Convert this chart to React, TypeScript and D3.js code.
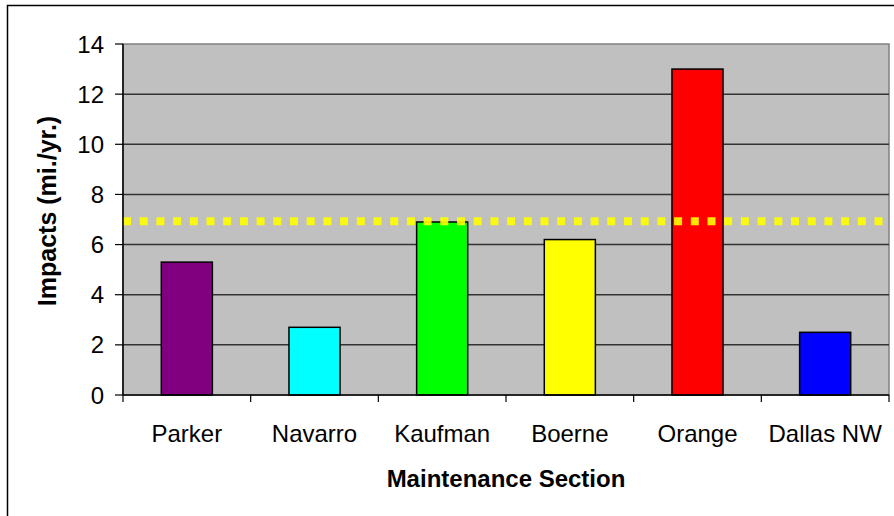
import React from "react"
import * as d3 from "d3"

const sections = ["Parker", "Navarro", "Kaufman", "Boerne", "Orange", "Dallas NW"]
const impacts = [5.3, 2.7, 6.9, 6.2, 13.0, 2.5]
const barColors = ["#800080", "#00FFFF", "#00FF00", "#FFFF00", "#FF0000", "#0000FF"]
const yTicks = [0, 2, 4, 6, 8, 10, 12, 14]
const threshold = 6.93

const W = 894
const H = 516
const left = 123
const right = 889
const top = 44
const bottom = 395

const font = "'Liberation Sans', Arial, sans-serif"

export default function App() {
  const x = d3.scaleBand().domain(sections).range([left, right]).paddingInner(0).paddingOuter(0)
  const y = d3.scaleLinear().domain([0, 14]).range([bottom, top])
  const barW = x.bandwidth() * 0.4
  const edges = [...sections.map(s => x(s)), right]

  return (
    <svg width={W} height={H} style={{ position: "absolute", left: 0, top: 0 }} fontFamily={font}>
      <rect x={0} y={0} width={W} height={H} fill="#fff" />
      <rect x={7.5} y={5.5} width={W + 10} height={H + 10} fill="none" stroke="#000" strokeWidth={1.5} />

      {/* plot area */}
      <rect x={left} y={top} width={right - left} height={bottom - top} fill="#C0C0C0" stroke="#808080" strokeWidth={1.5} />
      {yTicks.filter(t => t > 0 && t < 14).map(t => (
        <line key={t} x1={left} x2={right} y1={y(t)} y2={y(t)} stroke="#333" strokeWidth={1.5} />
      ))}

      {/* bars */}
      {sections.map((s, i) => (
        <rect key={s}
          x={x(s) + (x.bandwidth() - barW) / 2}
          y={y(impacts[i])}
          width={barW}
          height={bottom - y(impacts[i])}
          fill={barColors[i]}
          stroke="#000"
          strokeWidth={1.5} />
      ))}

      {/* threshold */}
      <line x1={left} x2={right} y1={y(threshold)} y2={y(threshold)}
        stroke="#FFFF00" strokeWidth={8} strokeDasharray="8 8.7" opacity={0.9} />

      {/* axes */}
      <line x1={left} x2={left} y1={top} y2={bottom} stroke="#000" strokeWidth={1.5} />
      <line x1={left} x2={right} y1={bottom} y2={bottom} stroke="#000" strokeWidth={1.5} />
      {yTicks.map(t => (
        <g key={t}>
          <line x1={115} x2={left} y1={y(t)} y2={y(t)} stroke="#000" strokeWidth={1.2} />
          <text x={104} y={y(t)} dy="0.36em" textAnchor="end" fontSize={24} fill="#000">{t}</text>
        </g>
      ))}
      {edges.map((e, i) => (
        <line key={i} x1={e} x2={e} y1={bottom} y2={402} stroke="#000" strokeWidth={1.2} />
      ))}
      {sections.map(s => (
        <text key={s} x={x(s) + x.bandwidth() / 2} y={442} textAnchor="middle" fontSize={24} fill="#000">{s}</text>
      ))}

      <text x={(left + right) / 2} y={487} textAnchor="middle" fontSize={24} fontWeight="bold">Maintenance Section</text>
      <text transform={`translate(56,211) rotate(-90)`} textAnchor="middle" fontSize={25} fontWeight="bold">Impacts (mi./yr.)</text>
    </svg>
  )
}
